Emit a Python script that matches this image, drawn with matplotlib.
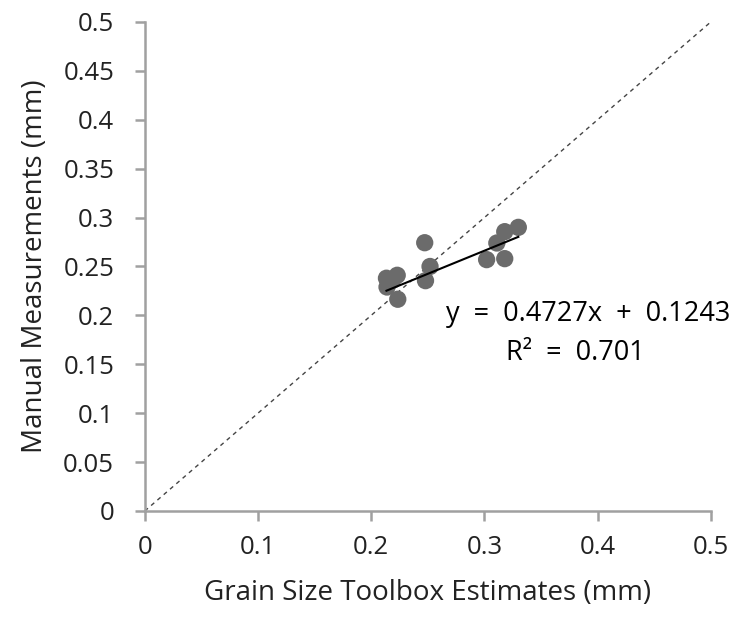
import matplotlib
matplotlib.use("Agg")
import matplotlib.pyplot as plt
import numpy as np

plt.rcParams['font.family'] = ['Open Sans', 'DejaVu Sans']

toolbox = [0.2135, 0.223, 0.214, 0.2235, 0.219, 0.2473, 0.252, 0.248, 0.302, 0.318, 0.311, 0.318, 0.330]
manual = [0.238, 0.241, 0.229, 0.2165, 0.236, 0.2743, 0.250, 0.2355, 0.257, 0.258, 0.274, 0.2856, 0.290]
slope, intercept, r2 = 0.4727, 0.1243, 0.701
ticks = [0, 0.1, 0.2, 0.3, 0.4, 0.5]
yticks = [0, 0.05, 0.1, 0.15, 0.2, 0.25, 0.3, 0.35, 0.4, 0.45, 0.5]

fig = plt.figure(figsize=(7.35, 6.19), dpi=100)
ax = fig.add_axes([0.197, 0.1745, 0.77, 0.79])

ax.plot([0, 0.5], [0, 0.5], linestyle=(0, (3, 3)), color='#444444', linewidth=1.0, zorder=1)
ax.scatter(toolbox, manual, s=155, color='#6b6b6b', edgecolors='none', zorder=2)
xs = np.array([min(toolbox), max(toolbox)])
ax.plot(xs, slope * xs + intercept, color='black', linewidth=1.5, zorder=3)

ax.text(0.392, 0.201, f"y  =  {slope}x  +  {intercept}", fontsize=19.5, ha='center', va='center')
ax.text(0.380, 0.162, f"R²  =  {r2}", fontsize=19.5, ha='center', va='center')

ax.set_xlim(0, 0.5)
ax.set_ylim(0, 0.5)
ax.set_xticks(ticks)
ax.set_xticklabels([f"{t:g}" for t in ticks])
ax.set_yticks(yticks)
ax.set_yticklabels([f"{t:g}" for t in yticks])
for s in ['top', 'right']:
    ax.spines[s].set_visible(False)
for s in ['left', 'bottom']:
    ax.spines[s].set_color('#a0a0a0')
    ax.spines[s].set_linewidth(1.8)
ax.tick_params(axis='both', colors='#a0a0a0', width=1.8, length=7, labelsize=18.5, labelcolor='#222222')
ax.tick_params(axis='y', pad=15)
ax.tick_params(axis='x', pad=10)
ax.set_xlabel("Grain Size Toolbox Estimates (mm)", fontsize=20, color='#222222', labelpad=14)
ax.set_ylabel("Manual Measurements (mm)", fontsize=20, color='#222222', labelpad=10)

fig.savefig("out.png", dpi=100)
